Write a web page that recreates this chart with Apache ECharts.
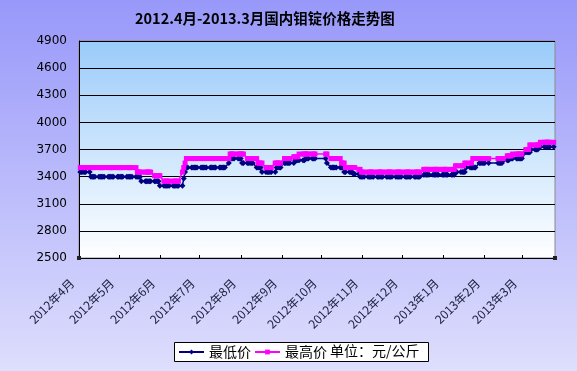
<!DOCTYPE html>
<html><head><meta charset="utf-8">
<script src="https://cdn.jsdelivr.net/npm/echarts@6/dist/echarts.min.js"></script>
<style>html,body{margin:0;padding:0;}#c{width:577px;height:371px;}</style>
</head><body><div id="c"></div>
<script>
// ---- chart text ----
const titleText = '2012.4月-2013.3月国内钼锭价格走势图';
const seriesNames = ['最低价', '最高价'];
const unitText = '单位：元/公斤';

// ---- axes ----
const yMin = 2500, yMax = 4900, yStep = 300;
const axisStart = '2012-04-01', axisEnd = '2013-03-26';
const monthTicks = ['2012-04-01','2012-05-01','2012-06-01','2012-07-01','2012-08-01','2012-09-01',
  '2012-10-01','2012-11-01','2012-12-01','2013-01-01','2013-02-01','2013-03-01'];

// ---- quote days: weekdays in this span, minus the periods without quotes ----
const firstQuote = '2012-04-02', lastQuote = '2013-03-25';
const noQuotePeriods = [['2012-09-27','2012-10-03'], ['2013-02-05','2013-02-08']];

// ---- price levels (元/公斤) with the date each level starts ----
const lowDates  = ['2012-04-02','2012-04-10','2012-05-18','2012-06-01','2012-06-19','2012-06-20','2012-06-21',
  '2012-07-23','2012-07-24','2012-08-02','2012-08-13','2012-08-17','2012-08-28','2012-09-03','2012-09-11',
  '2012-09-19','2012-10-05','2012-10-08','2012-10-18','2012-10-25','2012-10-30','2012-12-17','2013-01-10',
  '2013-01-18','2013-01-28','2013-02-15','2013-02-20','2013-03-04','2013-03-08','2013-03-14'];
const lowValues = [3450,3400,3350,3300,3380,3450,3500,
  3550,3600,3550,3500,3450,3500,3550,3580,
  3600,3550,3500,3450,3430,3400,3420,3450,
  3500,3550,3580,3600,3670,3700,3730];

const highDates = ['2012-04-02','2012-05-15','2012-05-28','2012-06-04','2012-06-18','2012-06-19','2012-06-20',
  '2012-06-21','2012-07-24','2012-08-06','2012-08-14','2012-08-20','2012-08-27','2012-09-03','2012-09-10',
  '2012-09-14','2012-10-08','2012-10-16','2012-10-19','2012-10-29','2012-10-31','2012-12-17','2013-01-10',
  '2013-01-17','2013-01-23','2013-02-18','2013-02-22','2013-03-04','2013-03-07','2013-03-15'];
const highValues = [3500,3450,3410,3350,3450,3500,3550,
  3600,3650,3600,3550,3500,3550,3600,3620,
  3650,3600,3550,3500,3480,3450,3480,3520,
  3550,3600,3630,3650,3700,3750,3780];

function parseD(s){const p=s.split('-').map(Number);return new Date(p[0],p[1]-1,p[2]);}
const quoteDays=[];
for(let t=parseD(firstQuote); t<=parseD(lastQuote); t=new Date(t.getFullYear(),t.getMonth(),t.getDate()+1)){
  const wd=t.getDay(); if(wd===0||wd===6) continue;
  if(noQuotePeriods.some(r=>t>=parseD(r[0])&&t<=parseD(r[1]))) continue;
  quoteDays.push(t);
}
function levelSeries(dates, values){
  const cd=dates.map(parseD);
  return quoteDays.map(t=>{let v=null;for(let i=0;i<cd.length;i++){if(cd[i]<=t)v=values[i];}return [t.getTime(),v];});
}
const tickTimes = monthTicks.map(s=>parseD(s).getTime());

const chart = echarts.init(document.getElementById('c'), null, {renderer:'canvas'});
chart.setOption({
  animation:false,
  backgroundColor:{type:'linear',x:0,y:0,x2:0,y2:1,colorStops:[{offset:0,color:'#9898FA'},{offset:1,color:'#DEDEFD'}]},
  title:{text:titleText,left:130,top:6,textStyle:{fontFamily:'Noto Sans CJK SC',fontSize:14.5,fontWeight:'bold',color:'#000'}},
  grid:{left:79,right:22,top:41,bottom:113,show:true,borderColor:'#8a8a8a',borderWidth:1,outerBoundsMode:'none',
    backgroundColor:{type:'linear',x:0,y:0,x2:0,y2:1,colorStops:[{offset:0,color:'#9ACBFA'},{offset:1,color:'#FFFFFF'}]}},
  legend:{left:178,top:345,itemWidth:25,itemHeight:6,itemGap:3,padding:0,
    textStyle:{fontFamily:'Noto Sans CJK SC',fontSize:14,color:'#000'},data:seriesNames},
  graphic:[
    {type:'rect',shape:{x:174.5,y:342.5,width:254,height:19},style:{fill:'#fff',stroke:'#000',lineWidth:1},z:0},
    {type:'text',x:330,y:344,style:{text:unitText,font:'14px "Noto Sans CJK SC"',fill:'#000'},z:5},
    {type:'rect',shape:{x:77,y:256,width:4,height:4},style:{fill:'#222'},z:10},
    {type:'rect',shape:{x:553,y:256,width:4,height:4},style:{fill:'#222'},z:10}
  ],
  xAxis:{type:'value',min:parseD(axisStart).getTime(),max:parseD(axisEnd).getTime(),
    axisLine:{lineStyle:{color:'#000',width:1}},
    axisTick:{show:true,inside:true,length:3,customValues:tickTimes,lineStyle:{color:'#000'}},
    splitLine:{show:false},
    axisLabel:{customValues:tickTimes,rotate:45,margin:16,padding:[0,10,0,0],hideOverlap:false,
      fontFamily:'Noto Sans CJK SC',fontSize:12,color:'#202040',
      formatter:function(v){const d=new Date(v);return d.getFullYear()+'年'+(d.getMonth()+1)+'月';}}
  },
  yAxis:{type:'value',min:yMin,max:yMax,interval:yStep,
    axisLine:{show:true,lineStyle:{color:'#000'}},axisTick:{show:false},
    splitLine:{lineStyle:{color:'#000',width:1}},
    axisLabel:{margin:12,fontFamily:'DejaVu Sans',fontSize:12,color:'#000',formatter:function(v){return String(v);}}},
  series:[
    {name:seriesNames[0],type:'line',data:levelSeries(lowDates,lowValues),symbol:'diamond',symbolSize:6,showAllSymbol:true,
      itemStyle:{color:'#000080'},lineStyle:{color:'#000080',width:1.5}},
    {name:seriesNames[1],type:'line',data:levelSeries(highDates,highValues),symbol:'rect',symbolSize:5,showAllSymbol:true,
      itemStyle:{color:'#FF00FF'},lineStyle:{color:'#FF00FF',width:1.5}}
  ]
});
</script></body></html>
